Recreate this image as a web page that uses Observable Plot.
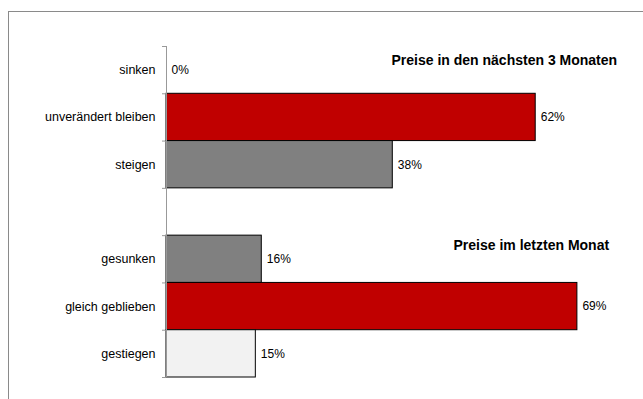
<!DOCTYPE html>
<html>
<head>
<meta charset="utf-8">
<script src="https://cdn.jsdelivr.net/npm/d3@7"></script>
<script src="https://cdn.jsdelivr.net/npm/@observablehq/plot@0.6"></script>
<style>
  html, body { margin: 0; padding: 0; background: #fff; }
  #wrap { position: relative; width: 643px; height: 399px; overflow: hidden; }
  #wrap svg { position: absolute; left: 0; top: 0; }
  #frame { position: absolute; left: 8px; top: 11px; width: 800px; height: 600px;
           border-left: 1px solid #8a8a8a; border-top: 1px solid #8a8a8a; pointer-events: none; }
</style>
</head>
<body>
<div id="wrap"><div id="frame"></div></div>
<script>
// Categories from top to bottom ("" is the empty gap row between the two groups)
const categories = ["sinken", "unverändert bleiben", "steigen", "", "gesunken", "gleich geblieben", "gestiegen"];
// Percent values
const values = [0, 62, 38, null, 16, 69, 15];
// Group titles
const titles = ["Preise in den nächsten 3 Monaten", "Preise im letzten Monat"];

const rows = categories
  .map((category, i) => ({category, value: values[i], i}))
  .filter(d => d.category !== "");

const barCats = ["unverändert bleiben", "steigen", "gesunken", "gleich geblieben", "gestiegen"];
const barColors = ["#C00000", "#808080", "#808080", "#C00000", "#F2F2F2"];

const font = "'Liberation Sans', Arial, sans-serif";

const chart = Plot.plot({
  width: 643,
  height: 399,
  marginLeft: 166,
  marginRight: 0,
  marginTop: 46,
  marginBottom: 22,
  style: {fontFamily: font, fontSize: "12px", background: "transparent", color: "#000"},
  x: {domain: [0, 477 / 5.955], axis: null},
  y: {domain: [0, categories.length], reverse: true, label: null},
  color: {domain: barCats, range: barColors},
  marks: [
    Plot.rect(rows.filter(d => d.value > 0), {
      x1: 0, x2: "value", y1: "i", y2: d => d.i + 1,
      fill: "category", stroke: "#000", strokeWidth: 1
    }),
    Plot.ruleX([0], {stroke: "#999", strokeWidth: 1}),
    // boundary tick marks
    Plot.axisY({
      ticks: d3.range(categories.length + 1),
      tickSize: 4, tickFormat: () => "", stroke: "#999", label: null
    }),
    // category labels
    Plot.axisY({
      ticks: rows.map(d => d.i + 0.5),
      tickFormat: v => categories[Math.floor(v)],
      tickSize: 0, tickPadding: 11, fontSize: 12.5, label: null
    }),
    Plot.text(rows, {
      x: "value", y: d => d.i + 0.5, text: d => d.value + "%",
      dx: 5, textAnchor: "start", fontSize: 12, fill: "#000"
    }),
    Plot.text([titles[0]], {
      frameAnchor: "top-left", dx: 225, dy: 14, lineAnchor: "middle",
      textAnchor: "start", fontWeight: "bold", fontSize: 14, fill: "#000"
    }),
    Plot.text([titles[1]], {
      frameAnchor: "top-left", dx: 287, dy: 199, lineAnchor: "middle",
      textAnchor: "start", fontWeight: "bold", fontSize: 14, fill: "#000"
    })
  ]
});

document.getElementById("wrap").insertBefore(chart, document.getElementById("frame"));
</script>
</body>
</html>
